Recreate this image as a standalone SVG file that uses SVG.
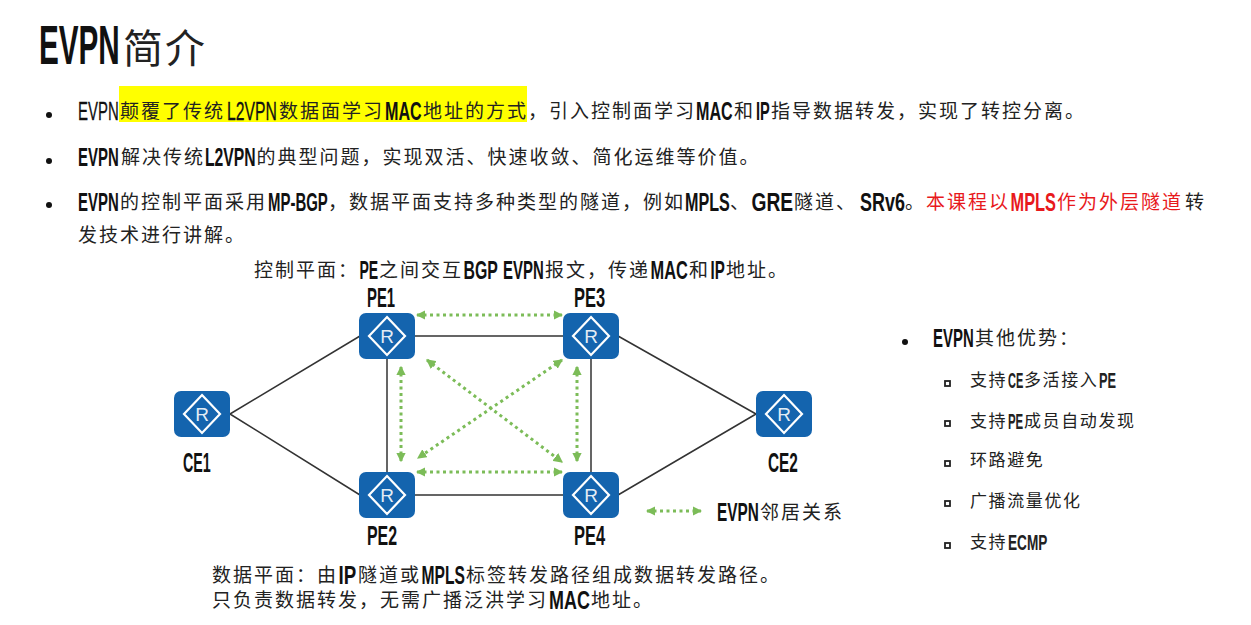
<svg xmlns="http://www.w3.org/2000/svg" width="1251" height="625" viewBox="0 0 1251 625">
<style>
text{font-family:"Noto Sans CJK SC","Liberation Sans",sans-serif;fill:#222}
.c{font-size:19px;letter-spacing:2px}
.l{font-family:"Liberation Sans",sans-serif;font-size:26px;fill:#111;stroke:#111;stroke-width:.3}
.b{font-family:"Liberation Sans",sans-serif;font-size:26px;font-weight:bold;fill:#111}
.s{font-size:17px;letter-spacing:1.6px}
.m{font-family:"Liberation Sans",sans-serif;font-size:22px;font-weight:bold;fill:#222}
.n{font-family:"Liberation Sans",sans-serif;font-size:27px;font-weight:bold;fill:#111}
.t{font-family:"Liberation Sans",sans-serif;font-size:56px;font-weight:bold;fill:#111}
text.red{fill:#e8191c}
.link{stroke:#333;stroke-width:1.5;fill:none}
.evpn{stroke:#7cbc58;stroke-width:3;stroke-dasharray:3 3.5;fill:none;marker-start:url(#ah);marker-end:url(#ah)}
.box{fill:#1464ae}
.dia{fill:none;stroke:#fff;stroke-width:2.2}
.rr{font-family:"Liberation Sans",sans-serif;font-size:19px;fill:#fff;fill-opacity:.9}
.dot{fill:#111}
.sq{fill:none;stroke:#222;stroke-width:1.8}
</style>
<defs>
<marker id="ah" viewBox="0 0 8 8" refX="7" refY="4" markerWidth="3.2" markerHeight="3.2" orient="auto-start-reverse"><path d="M0 0L8 4L0 8Z" fill="#7cbc58"/></marker>
<g id="router"><rect class="box" width="56" height="46" rx="7"/><path class="dia" d="M28 4L46 23L28 42L10 23Z"/><text class="rr" x="28" y="30" text-anchor="middle">R</text></g>
</defs>
<rect width="1251" height="625" fill="#fff"/>

<g id="title">
<text class="t" transform="matrix(.53 0 0 1 39 64)">EVPN</text>
<text x="123" y="63" style="font-size:40px;letter-spacing:2px">简介</text>
</g>

<g id="bullets">
<circle class="dot" cx="49" cy="115" r="3"/><circle class="dot" cx="49" cy="161" r="3"/><circle class="dot" cx="49" cy="205" r="3"/>
<rect x="119" y="86" width="408" height="36" fill="#ffff00"/>
<text class="l" transform="matrix(.575 0 0 1 78 120)">EVPN</text>
<text class="c" x="120" y="118">颠覆了传统</text>
<text class="l" transform="matrix(.605 0 0 1 227 120)">L2VPN</text>
<text class="c" x="279" y="118">数据面学习</text>
<text class="b" transform="matrix(.62 0 0 1 385 120)">MAC</text>
<text class="c" x="423" y="118">地址的方式，引入控制面学习</text>
<text class="b" transform="matrix(.62 0 0 1 696 120)">MAC</text>
<text class="c" x="734" y="118">和</text>
<text class="b" transform="matrix(.56 0 0 1 756 120)">IP</text>
<text class="c" x="771" y="118">指导数据转发，实现了转控分离。</text>

<text class="b" transform="matrix(.575 0 0 1 78 166)">EVPN</text>
<text class="c" x="121" y="164">解决传统</text>
<text class="b" transform="matrix(.605 0 0 1 205 166)">L2VPN</text>
<text class="c" x="256.5" y="164">的典型问题，实现双活、快速收敛、简化运维等价值。</text>

<text class="b" transform="matrix(.575 0 0 1 78 211)">EVPN</text>
<text class="c" x="120" y="209">的控制平面采用</text>
<text class="b" transform="matrix(.575 0 0 1 268 211)">MP-BGP</text>
<text class="c" x="328" y="209">，数据平面支持多种类型的隧道，例如</text>
<text class="b" transform="matrix(.62 0 0 1 685 211)">MPLS</text>
<text class="c" x="730" y="209">、</text>
<text class="b" transform="matrix(.74 0 0 1 751.5 211)">GRE</text>
<text class="c" x="794" y="209">隧道、</text>
<text class="b" transform="matrix(.69 0 0 1 860 211)">SRv6</text>
<text class="c" x="905" y="209">。</text>
<text class="c red" x="926" y="209">本课程以</text>
<text class="b red" transform="matrix(.63 0 0 1 1010.5 211)">MPLS</text>
<text class="c red" x="1057" y="209">作为外层隧道</text>
<text class="c" x="1185" y="209">转</text>
<text class="c" x="78" y="242">发技术进行讲解。</text>
</g>

<g id="control-note">
<text class="c" x="254" y="277">控制平面：</text>
<text class="b" transform="matrix(.54 0 0 1 359.5 279)">PE</text>
<text class="c" x="379" y="277">之间交互</text>
<text class="b" transform="matrix(.61 0 0 1 463.5 279)">BGP</text>
<text class="b" transform="matrix(.575 0 0 1 503 279)">EVPN</text>
<text class="c" x="545" y="277">报文，传递</text>
<text class="b" transform="matrix(.63 0 0 1 650.5 279)">MAC</text>
<text class="c" x="689" y="277">和</text>
<text class="b" transform="matrix(.58 0 0 1 710.5 279)">IP</text>
<text class="c" x="726" y="277">地址。</text>
</g>

<g id="connectors">
<path class="link" d="M230 414L360 336M230 414L360 495M415 336H563M415 495H563M387 358V472M591 358V472M618 336L756 414M618 495L756 414"/>
<path class="evpn" d="M417 315H562"/>
<path class="evpn" d="M417 472H562"/>
<path class="evpn" d="M401 367V461"/>
<path class="evpn" d="M577 367V461"/>
<path class="evpn" d="M427 360L562 462"/>
<path class="evpn" d="M562 360L418 458"/>
<path class="evpn" d="M647 511H701"/>
</g>

<g id="CE1"><use href="#router" x="174" y="391"/><text class="n" transform="matrix(.53 0 0 1 183 472)">CE1</text></g>
<g id="CE2"><use href="#router" x="756" y="391"/><text class="n" transform="matrix(.57 0 0 1 768 472)">CE2</text></g>
<g id="PE1"><use href="#router" x="359" y="313"/><text class="n" transform="matrix(.55 0 0 1 367 307)">PE1</text></g>
<g id="PE2"><use href="#router" x="359" y="472"/><text class="n" transform="matrix(.59 0 0 1 367 545)">PE2</text></g>
<g id="PE3"><use href="#router" x="563" y="313"/><text class="n" transform="matrix(.61 0 0 1 574 307)">PE3</text></g>
<g id="PE4"><use href="#router" x="563" y="472"/><text class="n" transform="matrix(.61 0 0 1 574 545)">PE4</text></g>

<g id="legend">
<text class="b" transform="matrix(.59 0 0 1 717 521)">EVPN</text>
<text class="c" x="760" y="519">邻居关系</text>
</g>

<g id="data-note">
<text class="c" x="212" y="582">数据平面：由</text>
<text class="b" transform="matrix(.72 0 0 1 338.5 584)">IP</text>
<text class="c" x="358" y="582">隧道或</text>
<text class="b" transform="matrix(.6 0 0 1 421.5 584)">MPLS</text>
<text class="c" x="466" y="582">标签转发路径组成数据转发路径。</text>
<text class="c" x="212" y="607">只负责数据转发，无需广播泛洪学习</text>
<text class="b" transform="matrix(.69 0 0 1 549 609)">MAC</text>
<text class="c" x="591" y="607">地址。</text>
</g>

<g id="advantages">
<circle class="dot" cx="905" cy="342" r="3"/>
<text class="b" transform="matrix(.575 0 0 1 933 347)">EVPN</text>
<text class="c" x="975" y="345">其他优势：</text>
<rect class="sq" x="945" y="381" width="5" height="5"/><rect class="sq" x="945" y="421" width="5" height="5"/><rect class="sq" x="945" y="461" width="5" height="5"/><rect class="sq" x="945" y="501" width="5" height="5"/><rect class="sq" x="945" y="543" width="5" height="5"/>
<text class="s" x="970" y="386">支持</text><text class="m" transform="matrix(.5 0 0 1 1008 388)">CE</text><text class="s" x="1024" y="386">多活接入</text><text class="m" transform="matrix(.58 0 0 1 1099 388)">PE</text>
<text class="s" x="970" y="427">支持</text><text class="m" transform="matrix(.52 0 0 1 1008 429)">PE</text><text class="s" x="1024" y="427">成员自动发现</text>
<text class="s" x="970" y="466">环路避免</text>
<text class="s" x="970" y="507">广播流量优化</text>
<text class="s" x="970" y="548">支持</text><text class="m" transform="matrix(.62 0 0 1 1008 550)">ECMP</text>
</g>
</svg>
